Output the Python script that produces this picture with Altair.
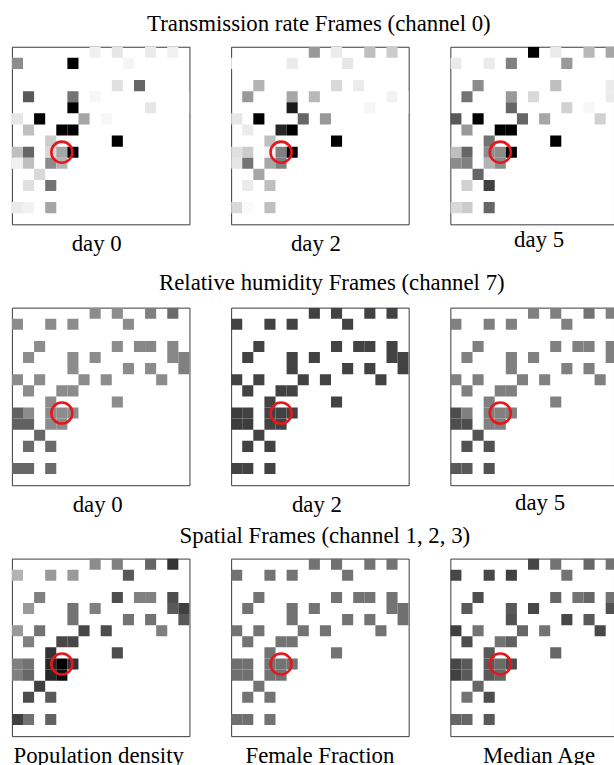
import altair as alt
import pandas as pd

# Occupied cells of the 16 x 16 grid (row 0 = top, col 0 = left)
ROWS = [0, 0, 0, 0,
        1, 1, 1, 1,
        3, 3, 3, 3, 3,
        4, 4, 4, 4, 4,
        5, 5, 5, 5,
        6, 6, 6, 6, 6,
        7, 7, 7,
        8, 8,
        9, 9, 9, 9, 9,
        10, 10, 10, 10,
        11,
        12, 12,
        14, 14, 14]
COLS = [7, 9, 12, 14,
        0, 3, 5, 10,
        2, 9, 11, 12, 14,
        1, 5, 7, 14, 15,
        5, 10, 12, 15,
        0, 2, 6, 8, 13,
        1, 4, 5,
        3, 9,
        0, 1, 3, 4, 5,
        0, 1, 3, 4,
        2,
        1, 3,
        0, 1, 3]

GRID = list(range(16))
HOT_ROW, HOT_COL = 9, 4  # location marked by the red ring

# Transmission rate (channel 0)
TR_DAY0 = [0.06, 0.10, 0.08, 0.06,
           0.45, 0.00, 1.00, 0.04,
           0.00, 0.12, 0.60, 0.00, 0.00,
           0.65, 0.55, 0.03, 0.00, 0.00,
           1.00, 0.00, 0.10, 0.00,
           0.10, 1.00, 0.35, 0.03, 0.00,
           0.25, 1.00, 1.00,
           0.20, 1.00,
           0.25, 0.60, 0.15, 0.35, 1.00,
           0.06, 0.25, 0.45, 0.30,
           0.15,
           0.12, 0.55,
           0.08, 0.05, 0.35]
TR_DAY2 = [0.40, 0.08, 0.25, 0.20,
           0.00, 0.00, 0.08, 0.10,
           0.30, 0.15, 0.08, 0.00, 0.00,
           0.40, 0.35, 0.28, 0.05, 0.00,
           0.90, 0.00, 0.04, 0.00,
           0.10, 1.00, 0.60, 0.40, 0.00,
           0.08, 0.85, 1.00,
           0.25, 1.00,
           0.12, 0.20, 0.05, 0.50, 1.00,
           0.10, 0.55, 0.35, 0.50,
           0.35,
           0.08, 0.25,
           0.15, 0.02, 0.25]
TR_DAY5 = [1.00, 0.08, 0.28, 0.35,
           0.08, 0.08, 0.50, 0.40,
           0.45, 0.25, 0.00, 0.00, 0.08,
           0.55, 0.40, 0.15, 0.08, 0.00,
           0.60, 0.18, 0.03, 0.00,
           0.65, 1.00, 0.60, 0.35, 0.18,
           0.40, 1.00, 1.00,
           0.55, 1.00,
           0.25, 0.60, 0.45, 0.45, 1.00,
           0.45, 0.50, 0.30, 0.45,
           0.60,
           0.18, 0.75,
           0.15, 0.20, 0.60]

# Relative humidity (channel 7)
RH_DAY0 = [0.45, 0.45, 0.50, 0.58,
           0.45, 0.45, 0.45, 0.45,
           0.45, 0.45, 0.47, 0.47, 0.47,
           0.45, 0.45, 0.45, 0.47, 0.50,
           0.45, 0.45, 0.45, 0.50,
           0.45, 0.45, 0.45, 0.45, 0.45,
           0.45, 0.45, 0.45,
           0.45, 0.45,
           0.62, 0.45, 0.45, 0.45, 0.45,
           0.62, 0.62, 0.45, 0.45,
           0.60,
           0.58, 0.58,
           0.60, 0.60, 0.58]
RH_DAY2 = [0.74, 0.74, 0.74, 0.74,
           0.74, 0.74, 0.74, 0.74,
           0.74, 0.74, 0.74, 0.74, 0.74,
           0.74, 0.74, 0.74, 0.74, 0.74,
           0.74, 0.74, 0.74, 0.74,
           0.74, 0.74, 0.74, 0.74, 0.74,
           0.74, 0.74, 0.74,
           0.74, 0.74,
           0.76, 0.74, 0.74, 0.74, 0.74,
           0.76, 0.76, 0.74, 0.74,
           0.74,
           0.74, 0.74,
           0.74, 0.74, 0.74]
RH_DAY5 = [0.50, 0.50, 0.55, 0.50,
           0.50, 0.50, 0.50, 0.50,
           0.50, 0.50, 0.50, 0.50, 0.50,
           0.50, 0.50, 0.50, 0.50, 0.50,
           0.50, 0.50, 0.50, 0.50,
           0.50, 0.50, 0.50, 0.50, 0.50,
           0.50, 0.50, 0.50,
           0.50, 0.50,
           0.70, 0.50, 0.50, 0.50, 0.50,
           0.70, 0.70, 0.50, 0.50,
           0.68,
           0.68, 0.68,
           0.65, 0.65, 0.68]

# Static spatial features (channels 1, 2, 3)
POP_DENSITY = [0.45, 0.50, 0.60, 0.80,
               0.30, 0.40, 0.40, 0.65,
               0.50, 0.70, 0.50, 0.50, 0.70,
               0.40, 0.55, 0.50, 0.65, 0.75,
               0.55, 0.55, 0.55, 0.65,
               0.40, 0.55, 0.72, 0.70, 0.50,
               0.50, 0.72, 0.72,
               0.80, 0.70,
               0.50, 0.55, 0.85, 1.00, 0.80,
               0.50, 0.60, 0.85, 0.95,
               0.75,
               0.70, 0.65,
               0.75, 0.55, 0.62]
FEMALE_FRACTION = [0.55, 0.56, 0.55, 0.55,
                   0.55, 0.55, 0.55, 0.55,
                   0.55, 0.55, 0.55, 0.55, 0.55,
                   0.55, 0.55, 0.55, 0.55, 0.56,
                   0.55, 0.55, 0.55, 0.56,
                   0.55, 0.55, 0.55, 0.55, 0.55,
                   0.55, 0.55, 0.55,
                   0.55, 0.55,
                   0.56, 0.56, 0.55, 0.55, 0.55,
                   0.56, 0.56, 0.55, 0.55,
                   0.55,
                   0.55, 0.55,
                   0.56, 0.56, 0.55]
MEDIAN_AGE = [0.72, 0.55, 0.60, 0.55,
              0.72, 0.72, 0.75, 0.55,
              0.70, 0.60, 0.55, 0.60, 0.55,
              0.65, 0.65, 0.72, 0.68, 0.60,
              0.68, 0.72, 0.65, 0.60,
              0.75, 0.55, 0.60, 0.55, 0.72,
              0.70, 0.55, 0.62,
              0.65, 0.60,
              0.72, 0.65, 0.65, 0.58, 0.70,
              0.75, 0.65, 0.65, 0.60,
              0.60,
              0.55, 0.70,
              0.60, 0.60, 0.65]

SERIF = "Liberation Serif"
PANEL = 179        # full grid size in pixels
EDGE_PANEL = 165   # the right-hand column runs off the page edge


def panel(values, label, dx=0, dy=0, width=PANEL):
    df = pd.DataFrame({"row": ROWS, "col": COLS, "v": values})
    x = alt.X("col:O",
              scale=alt.Scale(domain=GRID, range=[0, PANEL], paddingInner=0, paddingOuter=0),
              axis=None)
    y = alt.Y("row:O",
              scale=alt.Scale(domain=GRID, paddingInner=0, paddingOuter=0),
              axis=None)
    cells = alt.Chart(df).mark_rect(clip=True).encode(
        x=x,
        y=y,
        color=alt.Color(
            "v:Q",
            scale=alt.Scale(domain=[0, 1], range=["#ffffff", "#000000"], interpolate="rgb"),
            legend=None,
        ),
    )
    ring = alt.Chart(pd.DataFrame({"row": [HOT_ROW], "col": [HOT_COL]})).mark_point(
        shape="circle", filled=False, color="#e8161b", strokeWidth=2.6, size=450, opacity=1
    ).encode(x=x, y=y)
    return alt.layer(cells, ring).properties(
        width=width,
        height=PANEL,
        title=alt.TitleParams(
            label,
            orient="bottom",
            anchor="middle",
            baseline="alphabetic",
            font=SERIF,
            fontSize=23,
            fontWeight="normal",
            color="#000000",
            offset=27,
            dx=dx,
            dy=dy,
        ),
    )


def row(title, panels, dx=0, offset=-8):
    return alt.hconcat(
        *panels,
        spacing=40,
        title=alt.TitleParams(
            title,
            anchor="middle",
            baseline="alphabetic",
            font=SERIF,
            fontSize=23,
            fontWeight="normal",
            color="#000000",
            offset=offset,
            dx=dx,
        ),
    )


row1 = row("Transmission rate Frames (channel 0)", [
    panel(TR_DAY0, "day 0", dx=-4),
    panel(TR_DAY2, "day 2", dx=-4),
    panel(TR_DAY5, "day 5", dx=7, dy=-4, width=EDGE_PANEL),
], dx=6)
row2 = row("Relative humidity Frames (channel 7)", [
    panel(RH_DAY0, "day 0", dx=-3),
    panel(RH_DAY2, "day 2", dx=-3),
    panel(RH_DAY5, "day 5", dx=8, dy=-2, width=EDGE_PANEL),
], dx=19, offset=-6)
row3 = row("Spatial Frames (channel 1, 2, 3)", [
    panel(POP_DENSITY, "Population density", dx=-2),
    panel(FEMALE_FRACTION, "Female Fraction"),
    panel(MEDIAN_AGE, "Median Age", dx=7, width=EDGE_PANEL),
], dx=12)

chart = alt.vconcat(
    alt.vconcat(row1, row2, spacing=15),
    row3,
    spacing=7,
).properties(
    padding={"left": 11, "top": 10, "right": -1, "bottom": 0},
    background="#ffffff",
).configure_view(
    stroke="#3a3a3a", strokeWidth=1
)

chart.save("out.html", embed_options={"renderer": "svg", "actions": False})
